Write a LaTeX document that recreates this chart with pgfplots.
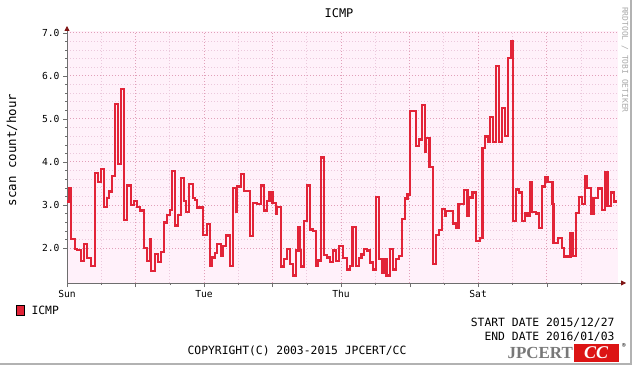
\documentclass[border=0pt]{standalone}
\usepackage{fontspec}
\setmainfont{DejaVu Sans Mono}
\newfontfamily\seriffont{Liberation Serif}
\usepackage{pgfplots}
\pgfplotsset{compat=1.18}
\usetikzlibrary{arrows.meta}
\definecolor{plotbg}{RGB}{255,241,250}
\definecolor{mgrid}{RGB}{225,160,185}
\definecolor{ngrid}{RGB}{235,200,220}
\definecolor{icmp}{RGB}{226,36,56}
\definecolor{axisgray}{RGB}{110,110,110}
\definecolor{arrowred}{RGB}{128,20,20}
\definecolor{wmgray}{RGB}{170,170,170}
\definecolor{logogray}{RGB}{120,120,120}
\definecolor{logored}{RGB}{220,20,20}
\newcommand{\fs}[1]{\fontsize{#1}{#1}\selectfont}
\begin{document}
\begin{tikzpicture}[x=1bp,y=1bp]
\useasboundingbox (0,0) rectangle (632,365);
\fill[white] (0,0) rectangle (632,365);
\draw[line width=2bp, gray!60] (631,0)--(631,365);
\draw[line width=2bp, gray!60] (0,1)--(632,1);
\begin{axis}[
  at={(67bp,82bp)}, anchor=south west, scale only axis,
  width=551bp, height=252bp,
  xmin=0, xmax=193, ymin=1.186, ymax=7.04,
  axis background/.style={fill=plotbg},
  axis lines=left,
  axis line style={draw=axisgray, line width=0.8bp},
  x axis line style={-{Triangle[length=5bp,width=5bp,color=arrowred]}, shorten >=-8bp},
  y axis line style={-{Triangle[length=5bp,width=5bp,color=arrowred]}, shorten >=-5bp},
  ytick={2,3,4,5,6,7}, yticklabels={2.0,3.0,4.0,5.0,6.0,7.0},
  minor y tick num=4,
  xtick={0,48,96,144}, xticklabels={Sun,Tue,Thu,Sat},
  extra x ticks={24,72,120,168}, extra x tick labels={},
  minor xtick={12,36,60,84,108,132,156,180},
  grid=both,
  major grid style={draw=mgrid, line width=0.8bp, dash pattern=on 1bp off 2bp},
  minor grid style={draw=ngrid, line width=0.8bp, dash pattern=on 1bp off 2bp},
  tick style={draw=axisgray},
  tick align=outside, major tick length=4bp, minor tick length=2bp,
  ticklabel style={font=\fs{9.7}, text=black},
]
\addplot[const plot, draw=icmp, line width=2.2bp, line join=miter] coordinates {
(0,3.08) (0.70,3.40) (1.51,2.21) (2.80,1.98) (3.61,1.95) (5.01,1.70) (6.06,2.10) (6.90,1.76)
(8.51,1.59) (9.92,3.75) (10.86,3.54) (11.81,3.84) (12.96,2.96) (13.91,3.16) (14.72,3.31)
(15.77,3.68) (16.71,5.34) (17.87,3.95) (19.02,5.70) (20.08,2.65) (21.02,3.45) (22.32,3.00)
(23.47,3.10) (24.42,2.96) (25.68,2.87) (26.98,1.99) (28.13,1.70) (28.97,2.20) (29.54,1.47)
(30.83,1.86) (31.88,1.68) (32.83,1.91) (33.98,2.59) (34.93,2.77) (35.98,2.88) (36.79,3.79)
(37.84,2.52) (38.78,2.77) (39.84,3.63) (40.99,3.10) (41.80,2.84) (42.85,3.48) (44.04,3.16)
(44.85,3.12) (45.65,2.94) (47.75,2.30) (48.94,2.55) (50.00,1.58) (50.91,1.78) (51.85,1.88)
(52.66,2.09) (53.85,1.82) (54.66,2.05) (55.71,2.29) (57.00,1.58) (58.16,3.40) (59.21,2.84)
(59.67,3.43) (60.86,3.71) (61.91,3.33) (64.12,2.28) (65.17,3.04) (66.46,3.02) (67.87,3.45)
(69.02,2.87) (69.97,3.10) (70.95,3.29) (72.00,3.04) (73.12,2.80) (73.58,2.96) (74.87,1.57)
(76.03,1.74) (76.97,1.98) (78.02,1.63) (79.08,1.36) (80.23,1.94) (81.04,2.48) (81.53,1.94)
(82.09,1.57) (83.04,2.63) (83.98,3.45) (85.14,2.43) (86.29,2.40) (87.17,1.58) (88.01,1.71)
(88.89,4.10) (89.94,1.84) (91.09,1.78) (92.07,1.68) (93.09,1.94) (94.14,1.70) (95.19,2.05)
(96.70,1.77) (98.00,1.50) (99.08,1.59) (100.03,2.48) (101.25,1.59) (102.31,1.76) (103.18,1.85)
(104.06,1.98) (105.21,1.94) (106.16,1.66) (107.28,1.50) (108.19,3.19) (109.38,1.74) (110.36,1.43)
(111.17,1.74) (111.94,1.36) (113.17,1.98) (114.29,1.50) (115.20,1.75) (116.32,1.82) (117.27,2.67)
(118.35,3.15) (119.23,3.24) (120.10,5.19) (122.17,4.37) (123.33,4.52) (124.27,5.33) (125.32,4.22)
(125.78,4.55) (127.00,3.89) (128.23,1.63) (129.17,2.30) (130.33,2.42) (131.28,2.91) (132.26,2.74)
(132.61,2.85) (135.24,2.57) (136.18,2.46) (137.10,3.02) (139.09,3.35) (140.25,2.74) (140.74,3.17)
(142.00,3.29) (143.19,2.16) (144.59,2.23) (145.50,4.33) (146.45,4.59) (147.32,4.47) (148.13,5.04)
(149.18,4.47) (150.23,6.22) (151.36,4.47) (152.30,5.26) (153.39,4.61) (154.33,6.41) (155.39,6.80)
(156.26,2.63) (157.24,3.36) (158.43,3.29) (159.31,2.63) (160.29,2.80) (161.27,2.74) (162.22,3.52)
(162.74,2.84) (164.25,2.80) (165.19,2.47) (166.32,3.43) (167.40,3.64) (168.28,3.54) (170.03,3.02)
(170.38,2.12) (171.96,2.24) (173.25,1.99) (174.20,1.80) (176.34,2.34) (177.21,1.82) (178.16,2.81)
(179.28,3.18) (180.43,3.03) (181.31,3.66) (182.26,3.40) (183.41,2.80) (184.39,3.16) (185.97,3.38)
(187.44,2.89) (188.50,3.77) (189.30,2.97) (190.42,3.29) (191.58,3.08) (192.70,3.08)
};
\end{axis}
\node[font=\fs{12}] at (339,352) {ICMP};
\node[rotate=90, font=\fs{12.5}] at (12,215) {scan count/hour};
\node[rotate=-90, anchor=west, font=\fs{8}, text=wmgray, inner sep=0pt] at (625,358) {RRDTOOL / TOBI OETIKER};
\draw[black, line width=0.6bp, fill=icmp] (16,50) rectangle (24,60);
\node[anchor=west, font=\fs{11.4}] at (28,55) {ICMP};
\node[anchor=east, font=\fs{11.4}] at (618,42) {START DATE 2015/12/27};
\node[anchor=east, font=\fs{11.4}] at (618,28) {END DATE 2016/01/03};
\node[font=\fs{11.4}] at (297,14) {COPYRIGHT(C) 2003-2015 JPCERT/CC};
\fill[logored] (574,3) rectangle (619,21);
\node[anchor=east, font=\seriffont\bfseries\fs{17}, text=logogray, inner sep=0pt] at (573,12) {JPCERT};
\node[font=\seriffont\bfseries\itshape\fs{18}, text=white, inner sep=0pt] at (596,12) {CC};
\node[font=\fs{6}, inner sep=0pt] at (624,19) {®};
\end{tikzpicture}
\end{document}
